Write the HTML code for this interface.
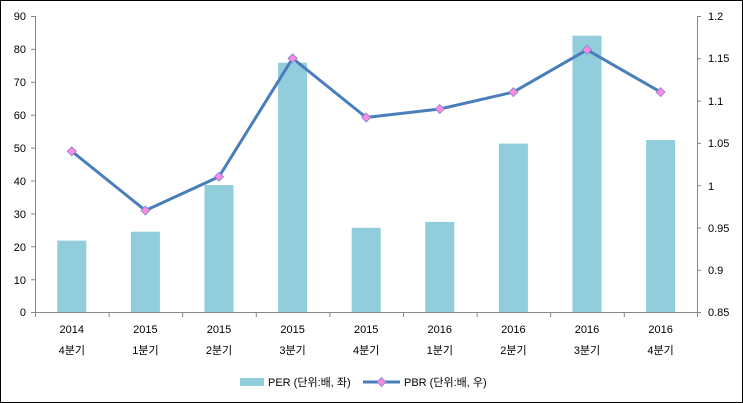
<!DOCTYPE html>
<html><head><meta charset="utf-8"><style>body{margin:0;background:#fff}svg{display:block}text{font-family:"Liberation Sans","Noto Sans CJK KR",sans-serif;font-size:11px;fill:#000}</style></head><body>
<svg width="743" height="403" viewBox="0 0 743 403">
<rect x="0.5" y="0.5" width="742" height="402" fill="#fff" stroke="#000"/>
<g fill="#92CDDC">
<rect x="57.3" y="240.6" width="29" height="71.4"/>
<rect x="130.9" y="231.7" width="29" height="80.3"/>
<rect x="204.5" y="185" width="29" height="127"/>
<rect x="278.1" y="62.7" width="29" height="249.3"/>
<rect x="351.7" y="227.8" width="29" height="84.2"/>
<rect x="425.3" y="221.9" width="29" height="90.1"/>
<rect x="498.9" y="143.6" width="29" height="168.4"/>
<rect x="572.5" y="35.7" width="29" height="276.3"/>
<rect x="646.1" y="140" width="29" height="172"/>
</g>
<g stroke="#868686" stroke-width="1">
<line x1="35.5" y1="16" x2="35.5" y2="312"/>
<line x1="697.5" y1="16" x2="697.5" y2="312"/>
<line x1="35" y1="312.5" x2="697" y2="312.5"/>
<path d="M31 16.5h4M31 49.4h4M31 82.3h4M31 115.2h4M31 148.1h4M31 181h4M31 213.9h4M31 246.8h4M31 279.7h4M31 312.5h4"/>
<path d="M697 16.5h4M697 58.8h4M697 101.1h4M697 143.4h4M697 185.7h4M697 228h4M697 270.3h4M697 312.5h4"/>
<path d="M35.5 312v5M109.1 312v5M182.7 312v5M256.3 312v5M329.9 312v5M403.5 312v5M477.1 312v5M550.7 312v5M624.3 312v5M697.5 312v5"/>
</g>
<g text-anchor="end">
<text x="26" y="20">90</text><text x="26" y="53">80</text><text x="26" y="86">70</text><text x="26" y="119">60</text><text x="26" y="152">50</text><text x="26" y="185">40</text><text x="26" y="218">30</text><text x="26" y="251">20</text><text x="26" y="284">10</text><text x="26" y="316">0</text>
</g>
<g>
<text x="708" y="20">1.2</text><text x="708" y="62">1.15</text><text x="708" y="105">1.1</text><text x="708" y="147">1.05</text><text x="708" y="190">1</text><text x="708" y="232">0.95</text><text x="708" y="274">0.9</text><text x="708" y="316">0.85</text>
</g>
<g text-anchor="middle">
<text x="71.8" y="333">2014</text><text x="71.8" y="354">4분기</text>
<text x="145.4" y="333">2015</text><text x="145.4" y="354">1분기</text>
<text x="219" y="333">2015</text><text x="219" y="354">2분기</text>
<text x="292.6" y="333">2015</text><text x="292.6" y="354">3분기</text>
<text x="366.2" y="333">2015</text><text x="366.2" y="354">4분기</text>
<text x="439.8" y="333">2016</text><text x="439.8" y="354">1분기</text>
<text x="513.4" y="333">2016</text><text x="513.4" y="354">2분기</text>
<text x="587" y="333">2016</text><text x="587" y="354">3분기</text>
<text x="660.6" y="333">2016</text><text x="660.6" y="354">4분기</text>
</g>
<polyline points="71.8,151.3 145.4,210.5 219,176.7 292.6,58.3 366.2,117.5 439.8,109 513.4,92.1 587,49.8 660.6,92.1" fill="none" stroke="#4A7EBB" stroke-width="3" stroke-linejoin="round"/>
<g fill="#FF88E0" stroke="#7A88D0" stroke-width="0.8">
<path d="M71.8 146.8l4.5 4.5-4.5 4.5-4.5-4.5z"/>
<path d="M145.4 206l4.5 4.5-4.5 4.5-4.5-4.5z"/>
<path d="M219 172.2l4.5 4.5-4.5 4.5-4.5-4.5z"/>
<path d="M292.6 53.8l4.5 4.5-4.5 4.5-4.5-4.5z"/>
<path d="M366.2 113l4.5 4.5-4.5 4.5-4.5-4.5z"/>
<path d="M439.8 104.5l4.5 4.5-4.5 4.5-4.5-4.5z"/>
<path d="M513.4 87.6l4.5 4.5-4.5 4.5-4.5-4.5z"/>
<path d="M587 45.3l4.5 4.5-4.5 4.5-4.5-4.5z"/>
<path d="M660.6 87.6l4.5 4.5-4.5 4.5-4.5-4.5z"/>
</g>
<rect x="240" y="378" width="24" height="8" fill="#92CDDC"/>
<text x="268" y="386">PER (단위:배, 좌)</text>
<line x1="363" y1="382" x2="400" y2="382" stroke="#4A7EBB" stroke-width="3"/>
<path d="M381.5 377.5l4.5 4.5-4.5 4.5-4.5-4.5z" fill="#FF88E0" stroke="#7A88D0" stroke-width="0.8"/>
<text x="404" y="386">PBR (단위:배, 우)</text>
</svg>
</body></html>
